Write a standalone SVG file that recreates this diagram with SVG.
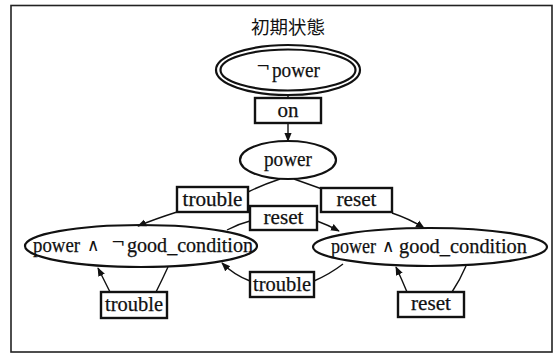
<svg xmlns="http://www.w3.org/2000/svg" width="559" height="353" viewBox="0 0 559 353">
<style>
.st{fill:none;stroke:#111;stroke-width:2.2}
.bx{fill:#fff;stroke:#111;stroke-width:2.4}
.ln{fill:none;stroke:#111;stroke-width:1.4}
.t{font-family:"Liberation Serif","Times New Roman",serif;font-size:21px;fill:#111;stroke:#111;stroke-width:0.25;text-anchor:middle}
.s{text-anchor:start}
.op{font-family:"DejaVu Serif","Liberation Serif",serif;font-size:17px;fill:#111;text-anchor:start}
.tt{font-family:"Noto Sans CJK JP","Noto Sans CJK SC",serif;font-size:18.5px;fill:#111;text-anchor:middle}
</style>
<defs>
<marker id="ah" viewBox="0 0 10 10" refX="9" refY="5" markerWidth="9" markerHeight="9" markerUnits="userSpaceOnUse" orient="auto">
<path d="M0,1 L10,5 L0,9 z" fill="#111"/>
</marker>
</defs>
<rect x="11" y="5.5" width="541" height="346.5" fill="none" stroke="#222" stroke-width="1.6"/>
<text class="tt" x="288" y="34">初期状態</text>
<g id="connectors">
<path class="ln" d="M288,95 L288,98"/>
<path class="ln" d="M288,123 L288,141" marker-end="url(#ah)"/>
<path class="ln" d="M280,179 Q262,185 248,192"/>
<path class="ln" d="M177,212 Q155,219 138,226" marker-end="url(#ah)"/>
<path class="ln" d="M294,179 Q308,184 322,189"/>
<path class="ln" d="M392,213 Q410,219 424,228" marker-end="url(#ah)"/>
<path class="ln" d="M227,230 Q238,224 250,221"/>
<path class="ln" d="M317,221 Q328,225 339,231" marker-end="url(#ah)"/>
<path class="ln" d="M343,264 Q330,274 314,281"/>
<path class="ln" d="M250,281 Q234,275 222,263" marker-end="url(#ah)"/>
<path class="ln" d="M168,267 Q162,280 156,292"/>
<path class="ln" d="M110,292 Q104,280 98,268" marker-end="url(#ah)"/>
<path class="ln" d="M466,266 Q460,280 452,292"/>
<path class="ln" d="M407,292 Q402,280 396,267" marker-end="url(#ah)"/>
</g>
<g id="not_power">
<ellipse class="st" cx="288" cy="70" rx="72" ry="25"/>
<ellipse class="st" cx="288" cy="70" rx="67.5" ry="20.5" stroke-width="1.6"/>
<text class="op" x="256" y="72">¬</text>
<text class="t s" x="272" y="77" textLength="48" lengthAdjust="spacingAndGlyphs">power</text>
</g>
<g id="lbl_on">
<rect class="bx" x="255" y="98" width="66" height="25"/>
<text class="t" x="288" y="117">on</text>
</g>
<g id="power">
<ellipse class="st" cx="288" cy="160" rx="48" ry="19"/>
<text class="t" x="288" y="166" textLength="48" lengthAdjust="spacingAndGlyphs">power</text>
</g>
<g id="lbl_trouble1">
<rect class="bx" x="177" y="187" width="71" height="25"/>
<text class="t" x="212.5" y="206" textLength="60" lengthAdjust="spacingAndGlyphs">trouble</text>
</g>
<g id="lbl_reset1">
<rect class="bx" x="321" y="188" width="71" height="24"/>
<text class="t" x="356.5" y="206" textLength="40" lengthAdjust="spacingAndGlyphs">reset</text>
</g>
<g id="power_bad">
<ellipse class="st" cx="141" cy="246" rx="116" ry="21"/>
<text class="t s" x="33" y="252" textLength="47" lengthAdjust="spacingAndGlyphs">power</text>
<text class="op" x="87" y="251">∧</text>
<text class="op" x="111" y="248">¬</text>
<text class="t s" x="127" y="252" textLength="126" lengthAdjust="spacingAndGlyphs">good_condition</text>
</g>
<g id="power_good">
<ellipse class="st" cx="430" cy="247" rx="117" ry="19"/>
<text class="t s" x="331" y="253" textLength="45" lengthAdjust="spacingAndGlyphs">power</text>
<text class="op" x="382" y="252">∧</text>
<text class="t s" x="399" y="253" textLength="128" lengthAdjust="spacingAndGlyphs">good_condition</text>
</g>
<g id="lbl_reset2">
<rect class="bx" x="250" y="206" width="67" height="24"/>
<text class="t" x="283.5" y="224" textLength="40" lengthAdjust="spacingAndGlyphs">reset</text>
</g>
<g id="lbl_trouble2">
<rect class="bx" x="250" y="272" width="64" height="25"/>
<text class="t" x="282" y="291" textLength="58" lengthAdjust="spacingAndGlyphs">trouble</text>
</g>
<g id="lbl_trouble3">
<rect class="bx" x="101" y="292" width="66" height="26"/>
<text class="t" x="134" y="311" textLength="58" lengthAdjust="spacingAndGlyphs">trouble</text>
</g>
<g id="lbl_reset3">
<rect class="bx" x="398" y="292" width="66" height="25"/>
<text class="t" x="431" y="310" textLength="40" lengthAdjust="spacingAndGlyphs">reset</text>
</g>
</svg>
